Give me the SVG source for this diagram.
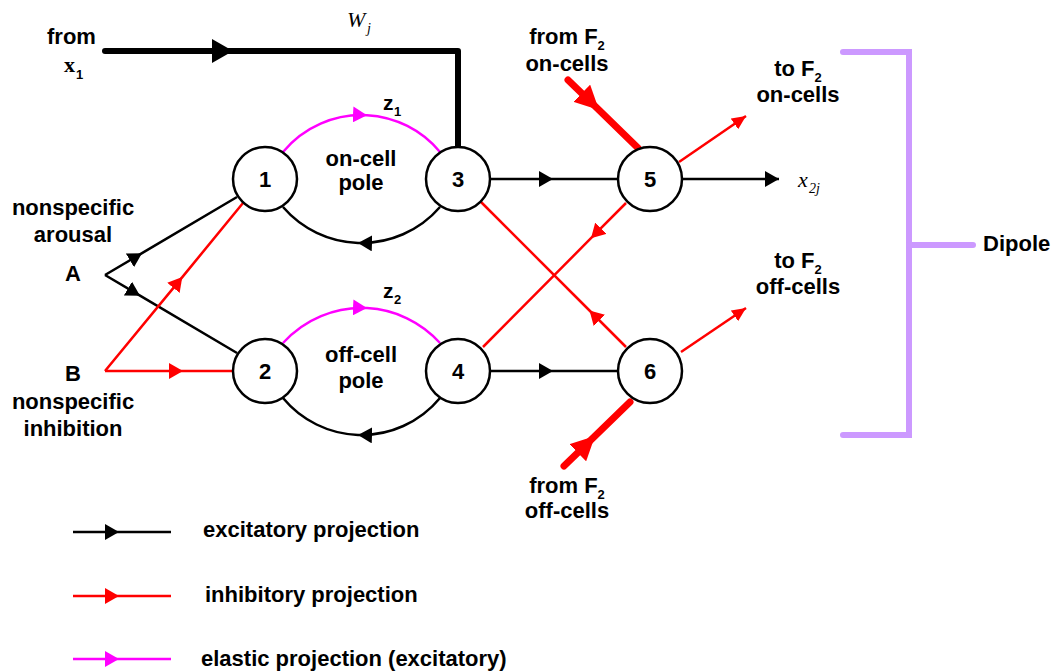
<svg xmlns="http://www.w3.org/2000/svg" width="1055" height="672" viewBox="0 0 1055 672">
<style>
.t{font-family:"Liberation Sans",Arial,sans-serif;font-weight:bold;font-size:22px;fill:#000}
.m{text-anchor:middle}
.sub{font-size:13px}
.ser{font-family:"Liberation Serif","Times New Roman",serif;font-style:italic;font-weight:normal;font-size:22px}
.node{fill:#fff;stroke:#000;stroke-width:2.5}
.blk{fill:none;stroke:#000;stroke-width:2.5}
.red{fill:none;stroke:#ff0000;stroke-width:2.5}
.mag{fill:none;stroke:#ff00ff;stroke-width:2.5}
.thickB{fill:none;stroke:#000;stroke-width:6;stroke-linecap:round}
.thickR{fill:none;stroke:#ff0000;stroke-width:7;stroke-linecap:round}
.brk{fill:none;stroke:#cc99ff;stroke-width:6;stroke-linecap:round}
</style>
<defs>
<marker id="aB" markerUnits="userSpaceOnUse" markerWidth="15" markerHeight="16" refX="14" refY="8" orient="auto"><path d="M0,0 L14,8 L0,16 z" fill="#000"/></marker>
<marker id="aR" markerUnits="userSpaceOnUse" markerWidth="15" markerHeight="16" refX="14" refY="8" orient="auto"><path d="M0,0 L14,8 L0,16 z" fill="#ff0000"/></marker>
<marker id="aM" markerUnits="userSpaceOnUse" markerWidth="15" markerHeight="16" refX="14" refY="8" orient="auto"><path d="M0,0 L14,8 L0,16 z" fill="#ff00ff"/></marker>
<marker id="aRs" markerUnits="userSpaceOnUse" markerWidth="15" markerHeight="13" refX="14" refY="6.5" orient="auto"><path d="M0,0 L14,6.5 L0,13 z" fill="#ff0000"/></marker>
<marker id="aBb" markerUnits="userSpaceOnUse" markerWidth="22" markerHeight="24" refX="21" refY="12" orient="auto"><path d="M0,0 L21,12 L0,24 z" fill="#000"/></marker>
<marker id="aRb" markerUnits="userSpaceOnUse" markerWidth="25" markerHeight="24" refX="24" refY="12" orient="auto"><path d="M0,0 L24,12 L0,24 z" fill="#ff0000"/></marker>
</defs>
<rect width="1055" height="672" fill="#fff"/>

<g id="connectors">
  <path class="thickB" d="M105,51 L233,51" marker-end="url(#aBb)"/>
  <path class="thickB" d="M233,51 L458,51 L458,150" stroke-linejoin="round"/>
  <path class="mag" d="M283,152 A102,102 0 0 1 367,115.2 A102,102 0 0 1 440,152" marker-mid="url(#aM)"/>
  <path class="blk" d="M440,207 A103.6,103.6 0 0 1 358,242.9 A103.6,103.6 0 0 1 283,207" marker-mid="url(#aB)"/>
  <path class="mag" d="M283,343 A105.5,105.5 0 0 1 367,308.1 A105.5,105.5 0 0 1 440,343" marker-mid="url(#aM)"/>
  <path class="blk" d="M440,398 A101.8,101.8 0 0 1 358,434.9 A101.8,101.8 0 0 1 283,398" marker-mid="url(#aB)"/>
  <path class="blk" d="M105,275 L142,253.2 L237,197" marker-mid="url(#aB)"/>
  <path class="blk" d="M105,275 L140,295.7 L237,353" marker-mid="url(#aB)"/>
  <path class="red" d="M105,371 L183,371 L233,371" marker-mid="url(#aR)"/>
  <path class="red" d="M105,371 L182.3,277.1 L243,203" marker-mid="url(#aR)"/>
  <path class="blk" d="M490,179 L553,179 L618,179" marker-mid="url(#aB)"/>
  <path class="blk" d="M490,371 L553,371 L618,371" marker-mid="url(#aB)"/>
  <path class="blk" d="M682,179 L779,179" marker-end="url(#aB)"/>
  <path class="red" d="M626,347 L589.5,310.5 L481,202" marker-mid="url(#aR)"/>
  <path class="red" d="M626,203 L591,238.2 L483,347" marker-mid="url(#aR)"/>
  <path class="thickR" d="M568,80 L599,110 L638,148" marker-mid="url(#aRb)"/>
  <path class="thickR" d="M564,466 L595,436 L630,402" marker-mid="url(#aRb)"/>
  <path class="red" d="M679,162 L746,116" marker-end="url(#aRs)"/>
  <path class="red" d="M681,352 L746,308" marker-end="url(#aRs)"/>
  <path class="brk" d="M843,52 L909,52 L909,435 L843,435"/>
  <path class="brk" d="M909,245 L973,245"/>
</g>

<g id="node1"><circle class="node" cx="265" cy="179" r="32"/><text class="t m" x="265" y="187">1</text></g>
<g id="node2"><circle class="node" cx="265" cy="371" r="32"/><text class="t m" x="265" y="379">2</text></g>
<g id="node3"><circle class="node" cx="458" cy="179" r="32"/><text class="t m" x="458" y="187">3</text></g>
<g id="node4"><circle class="node" cx="458" cy="371" r="32"/><text class="t m" x="458" y="379">4</text></g>
<g id="node5"><circle class="node" cx="650" cy="179" r="32"/><text class="t m" x="650" y="187">5</text></g>
<g id="node6"><circle class="node" cx="650" cy="371" r="32"/><text class="t m" x="650" y="379">6</text></g>

<g id="labels">
  <text class="t" x="47" y="44">from</text>
  <text x="64" y="72" style="font-family:'Liberation Serif',serif;font-weight:bold;font-size:22px">x</text>
  <text class="t sub" x="76" y="79">1</text>
  <text class="ser" x="347" y="27">W</text>
  <text class="ser" x="367" y="33" style="font-size:14px">j</text>
  <text class="t" x="383" y="110" style="font-size:21px">z</text>
  <text class="t sub" x="394" y="116">1</text>
  <text class="t" x="383" y="298" style="font-size:21px">z</text>
  <text class="t sub" x="394" y="304">2</text>
  <text class="t m" x="361" y="166">on-cell</text>
  <text class="t m" x="361" y="190">pole</text>
  <text class="t m" x="361" y="362">off-cell</text>
  <text class="t m" x="361" y="388">pole</text>
  <text class="t m" x="73" y="215">nonspecific</text>
  <text class="t m" x="73" y="242">arousal</text>
  <text class="t m" x="73" y="281">A</text>
  <text class="t m" x="73" y="381">B</text>
  <text class="t m" x="73" y="409">nonspecific</text>
  <text class="t m" x="73" y="436">inhibition</text>
  <text class="t m" x="567" y="44">from F<tspan class="sub" dy="6">2</tspan></text>
  <text class="t m" x="567" y="71">on-cells</text>
  <text class="t m" x="798" y="76">to F<tspan class="sub" dy="6">2</tspan></text>
  <text class="t m" x="798" y="102">on-cells</text>
  <text class="t m" x="798" y="268">to F<tspan class="sub" dy="6">2</tspan></text>
  <text class="t m" x="798" y="294">off-cells</text>
  <text class="t m" x="567" y="493">from F<tspan class="sub" dy="6">2</tspan></text>
  <text class="t m" x="567" y="518">off-cells</text>
  <text class="ser" x="798" y="187">x</text>
  <text class="ser" x="809" y="193" style="font-size:14px">2j</text>
  <text class="t" x="983" y="251">Dipole</text>
</g>

<g id="legend">
  <path class="blk" d="M73,532 L119,532 L171,532" marker-mid="url(#aB)"/>
  <path class="red" d="M73,596 L119,596 L171,596" marker-mid="url(#aR)"/>
  <path class="mag" d="M73,659 L119,659 L171,659" marker-mid="url(#aM)"/>
  <text class="t" x="203" y="537">excitatory projection</text>
  <text class="t" x="205" y="602">inhibitory projection</text>
  <text class="t" x="201" y="666">elastic projection (excitatory)</text>
</g>
</svg>
